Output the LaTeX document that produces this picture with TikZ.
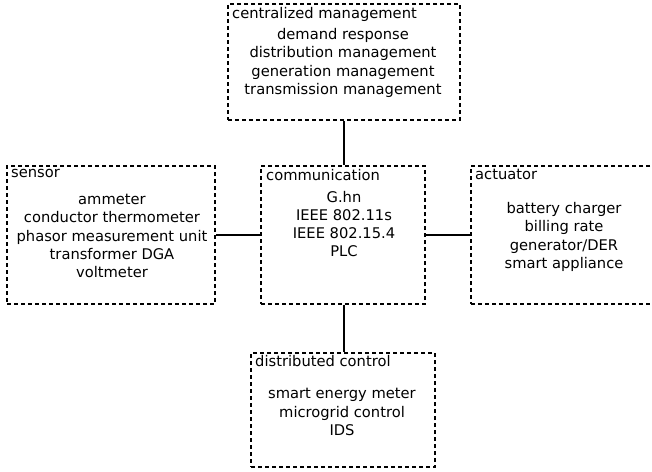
\documentclass[tikz,border=0pt]{standalone}
\usepackage{fontspec}
\setmainfont{DejaVu Sans}
\begin{document}
\begin{tikzpicture}[x=1pt,y=-1pt,
  box/.style={draw=black, line width=2pt, dash pattern=on 4pt off 3pt, inner sep=0pt},
  ttl/.style={anchor=north west, inner sep=0pt, font=\fontsize{14.7}{18}\selectfont},
  body/.style={align=center, inner sep=0pt, font=\fontsize{14.7}{18.3}\selectfont},
  link/.style={draw=black, line width=2pt}]
\useasboundingbox (0,0) rectangle (652,471);
\clip (0,0) rectangle (652,471);
% boxes
\node[box, minimum width=232pt, minimum height=116pt] (cm) at (344,62) {};
\node[box, minimum width=164pt, minimum height=138pt] (co) at (343,235) {};
\node[box, minimum width=208pt, minimum height=138pt] (se) at (111,235) {};
\node[box, minimum width=220pt, minimum height=138pt] (ac) at (581,235) {};
\node[box, minimum width=184pt, minimum height=114pt] (dc) at (343,410) {};
% titles
\node[ttl] (cmt) at (232,7) {centralized management};
\node[ttl] (set) at (11,169) {sensor};
\node[ttl] (cot) at (266,169) {communication};
\node[ttl] (act) at (475,169) {actuator};
\node[ttl] (dct) at (255,355) {distributed control};
% bodies
\node[body] (cmb) at (343,63) {demand response\\distribution management\\generation management\\transmission management};
\node[body] (seb) at (112,236) {ammeter\\conductor thermometer\\phasor measurement unit\\transformer DGA\\voltmeter};
\node[body] (cob) at (344,224) {G.hn\\IEEE 802.11s\\IEEE 802.15.4\\PLC};
\node[body] (acb) at (564,237) {battery charger\\billing rate\\generator/DER\\smart appliance};
\node[body] (dcb) at (342,412) {smart energy meter\\microgrid control\\IDS};
% connectors
\draw[link] (cm.south) -- (cm.south |- co.north);
\draw[link] (se.east) -- (co.west);
\draw[link] (co.east) -- (ac.west);
\draw[link] (cm.south |- co.south) -- (cm.south |- dc.north);
\end{tikzpicture}
\end{document}
